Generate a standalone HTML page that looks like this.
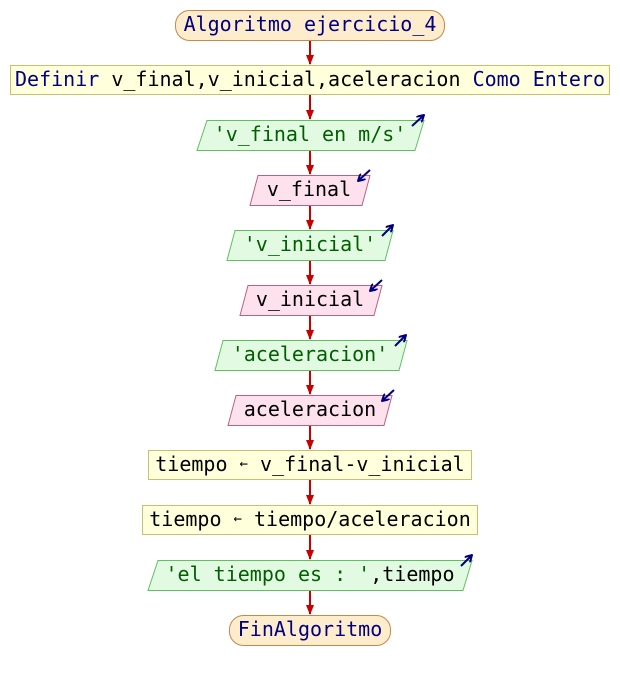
<!DOCTYPE html>
<html><head><style>
html,body{margin:0;padding:0;background:#fff;width:620px;height:680px;overflow:hidden}
text{font-family:"DejaVu Sans Mono","Liberation Mono",monospace;font-size:20px;dominant-baseline:central;text-anchor:middle}
</style></head><body>
<svg width="620" height="680" xmlns="http://www.w3.org/2000/svg">
<defs>
<marker id="ah" markerWidth="10" markerHeight="8" refX="9" refY="4" orient="auto" markerUnits="userSpaceOnUse">
<path d="M0,0 L10,4 L0,8 z" fill="#c80000"/></marker>
<marker id="bh" markerWidth="8" markerHeight="8" refX="7" refY="4" orient="auto" markerUnits="userSpaceOnUse">
<path d="M0,0 L7,4 L0,8" fill="none" stroke="#000080" stroke-width="2"/></marker>
</defs>
<g stroke="#c80000" stroke-width="2" marker-end="url(#ah)">
<line x1="310" y1="40" x2="310" y2="64"/>
<line x1="310" y1="95" x2="310" y2="119"/>
<line x1="310" y1="150" x2="310" y2="174"/>
<line x1="310" y1="205" x2="310" y2="229"/>
<line x1="310" y1="260" x2="310" y2="284"/>
<line x1="310" y1="315" x2="310" y2="339"/>
<line x1="310" y1="370" x2="310" y2="394"/>
<line x1="310" y1="425" x2="310" y2="449"/>
<line x1="310" y1="480" x2="310" y2="504"/>
<line x1="310" y1="535" x2="310" y2="559"/>
<line x1="310" y1="590" x2="310" y2="614"/>
</g>
<rect x="175.5" y="10.5" width="269" height="30" rx="14" fill="#fdedcc" stroke="#c8884a"/>
<text x="310" y="24" fill="#000080">Algoritmo ejercicio_4</text>
<rect x="10.5" y="65.5" width="599" height="29" fill="#ffffdc" stroke="#c8c070"/>
<text x="310" y="79"><tspan fill="#000080">Definir</tspan> v_final,v_inicial,aceleracion <tspan fill="#000080">Como Entero</tspan></text>

<polygon points="207,120.5 424,120.5 415,150.5 197,150.5" fill="#e2fae2" stroke="#60c060"/>
<text x="310" y="134" fill="#006000">'v_final en m/s'</text>
<line x1="412" y1="126" x2="424" y2="115" stroke="#000080" stroke-width="2" marker-end="url(#bh)"/>

<polygon points="258,175.5 370,175.5 362,205.5 250,205.5" fill="#fde2ee" stroke="#c06080"/>
<text x="309" y="189" fill="#000">v_final</text>
<line x1="370" y1="170" x2="358" y2="181" stroke="#000080" stroke-width="2" marker-end="url(#bh)"/>

<polygon points="235,230.5 393,230.5 385,260.5 227,260.5" fill="#e2fae2" stroke="#60c060"/>
<text x="310" y="244" fill="#006000">'v_inicial'</text>
<line x1="382" y1="236" x2="393" y2="225" stroke="#000080" stroke-width="2" marker-end="url(#bh)"/>

<polygon points="248,285.5 382,285.5 374,315.5 240,315.5" fill="#fde2ee" stroke="#c06080"/>
<text x="310" y="299" fill="#000">v_inicial</text>
<line x1="382" y1="280" x2="370" y2="291" stroke="#000080" stroke-width="2" marker-end="url(#bh)"/>

<polygon points="223,340.5 407,340.5 399,370.5 215,370.5" fill="#e2fae2" stroke="#60c060"/>
<text x="310" y="354" fill="#006000">'aceleracion'</text>
<line x1="395" y1="346" x2="406" y2="335" stroke="#000080" stroke-width="2" marker-end="url(#bh)"/>

<polygon points="236,395.5 392,395.5 384,425.5 228,425.5" fill="#fde2ee" stroke="#c06080"/>
<text x="310" y="409" fill="#000">aceleracion</text>
<line x1="394" y1="390" x2="382" y2="401" stroke="#000080" stroke-width="2" marker-end="url(#bh)"/>

<rect x="148.5" y="450.5" width="323" height="29" fill="#ffffdc" stroke="#c8c070"/>
<text x="310" y="464">tiempo <tspan font-size="14">&#8592;</tspan> v_final-v_inicial</text>
<rect x="142.5" y="505.5" width="335" height="29" fill="#ffffdc" stroke="#c8c070"/>
<text x="310" y="519">tiempo <tspan font-size="14">&#8592;</tspan> tiempo/aceleracion</text>

<polygon points="158,560.5 472,560.5 463,590.5 148,590.5" fill="#e2fae2" stroke="#60c060"/>
<text x="310" y="574"><tspan fill="#006000">'el tiempo es : '</tspan>,tiempo</text>
<line x1="461" y1="566" x2="472" y2="555" stroke="#000080" stroke-width="2" marker-end="url(#bh)"/>

<rect x="229.5" y="615.5" width="161" height="30" rx="14" fill="#fdedcc" stroke="#c8884a"/>
<text x="310" y="629" fill="#000080">FinAlgoritmo</text>
</svg>
</body></html>
